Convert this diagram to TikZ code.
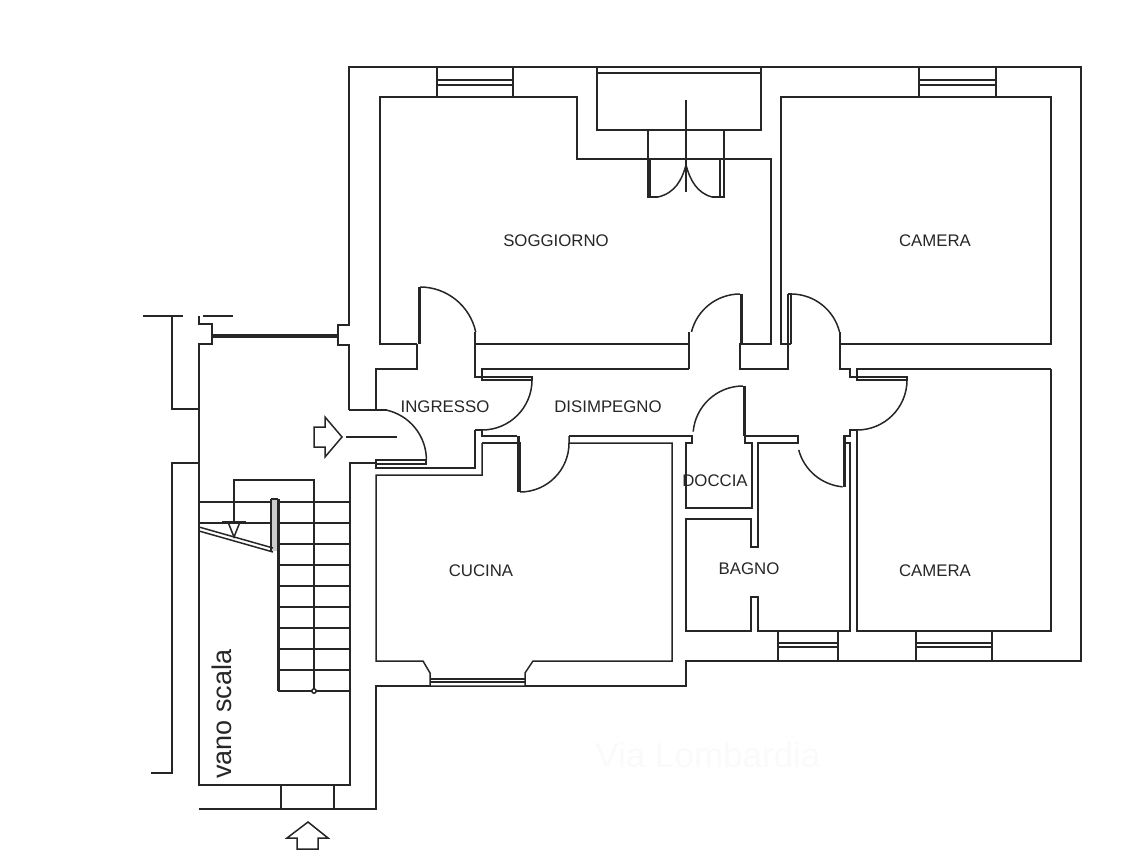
\documentclass[tikz,border=0pt]{standalone}
\usepackage{fontspec}
\setmainfont{Liberation Sans}

\tikzset{
	wall/.style={line width=1.5pt, draw=black!85, line join=miter},
	leaf/.style={line width=3pt, draw=black!85},
	roomlabel/.style={font=\fontsize{16.8}{17}\selectfont, text=black!85, inner sep=0pt},
}

\begin{document}
\begin{tikzpicture}[x=1pt, y=1pt, yscale=-1]
	\useasboundingbox (0,0) rectangle (1126,859);

	% outer walls
	\draw[wall] (349,410) -- (349,345) -- (338,345) -- (338,325) -- (349,325) -- (349,67) -- (1081,67) -- (1081,661) -- (686,661) -- (686,686) -- (525,686);
	\draw[wall] (430,686) -- (376,686) -- (376,809) -- (199,809);
	\draw[wall] (349,410) -- (387,410);
	\draw[wall] (281,785) -- (281,809);
	\draw[wall] (334,785) -- (334,809);

	% stairwell
	\draw[wall] (199,316) -- (199,324) -- (212,324) -- (212,344) -- (199,344) -- (199,785) -- (350,785) -- (350,463) -- (376,463);
	\draw[wall] (376,410) -- (376,369) -- (417,369) -- (417,344);
	\draw[wall] (203,316) -- (233,316);
	\draw[wall] (143,316) -- (183,316);
	\draw[wall] (172,316) -- (172,409) -- (199,409);
	\draw[wall] (199,463) -- (172,463) -- (172,773) -- (151,773);
	\draw[leaf, line width=4.5pt] (213,336) -- (338,336);

	% steps
	\foreach \ystep in {502,523} {
		\draw[wall] (199,\ystep) -- (271,\ystep);
		\draw[wall] (278,\ystep) -- (350,\ystep);
	}
	\foreach \ystep in {544,565,586,607,628,649,670,691} {
		\draw[wall] (278,\ystep) -- (350,\ystep);
	}
	\draw[wall] (234,522) -- (234,480) -- (314,480) -- (314,691);
	\draw[wall, fill=white] (314,691) circle (2.2);
	\fill[black!20] (271,499) rectangle (277,551);
	\draw[leaf] (278,499) -- (278,691);
	\draw[wall] (271,499) -- (278,499);
	\draw[wall] (271,499) -- (271,552);
	\draw[wall] (199,527) -- (273,548);
	\draw[wall] (199,531) -- (273,552);
	\draw[wall] (222,522) -- (246,522);
	\draw[wall] (228,522) -- (234,537) -- (240,522);

	% soggiorno
	\draw[wall] (417,344) -- (380,344) -- (380,97) -- (577,97) -- (577,159) -- (771,159) -- (771,344) -- (740,344) -- (740,369) -- (788,369) -- (788,294);
	\draw[wall] (475,344) -- (689,344);
	\draw[wall] (689,369) -- (689,332);
	\draw[leaf] (419,287) -- (419,344);
	\draw[wall] (420,287) arc (-90:-12:57);
	\draw[wall] (475,332) -- (475,377) -- (532,377) -- (532,380) -- (482,380) -- (482,369) -- (689,369);
	\draw[leaf] (741,294) -- (741,344);
	\draw[wall] (740,294) arc (-90:-166:50);

	% windows top
	\foreach \xwin/\xend in {437/513,919/996} {
		\draw[wall] (\xwin,67) -- (\xwin,97);
		\draw[wall] (\xend,67) -- (\xend,97);
		\draw[wall] (\xwin,80) -- (\xend,80);
		\draw[wall] (\xwin,85) -- (\xend,85);
	}

	% balcony
	\draw[wall] (597,67) -- (597,130) -- (761,130) -- (761,67);
	\draw[wall] (597,73) -- (761,73);
	\draw[wall] (686,100) -- (686,192);
	\draw[wall] (648,130) -- (648,197) -- (658,197);
	\draw[wall] (724,130) -- (724,197) -- (712,197);
	\draw[wall] (720,159) -- (720,197);
	\draw[leaf] (649,159) -- (649,197);
	\draw[wall] (658,197) .. controls (675,193) and (682,180) .. (686,165);
	\draw[wall] (712,197) .. controls (697,193) and (690,180) .. (686,165);

	% camera top
	\draw[wall] (791,344) -- (781,344) -- (781,97) -- (1051,97) -- (1051,344) -- (840,344);
	\draw[wall] (788,294) -- (791,294) -- (791,344);
	\draw[wall] (791,294) arc (-90:-14:50);
	\draw[wall] (840,332) -- (840,369) -- (850,369) -- (850,377) -- (907,377) -- (907,380) -- (857,380) -- (857,369) -- (1051,369);

	% camera bottom
	\draw[wall] (1051,369) -- (1051,631) -- (857,631) -- (857,430) -- (850,430) -- (850,436) -- (843,436);
	\draw[wall] (907,380) arc (0:90:50);
	\draw[leaf] (844,436) -- (844,487);
	\draw[wall] (843,443) -- (850,443) -- (850,631) -- (758,631) -- (758,597) -- (751,597) -- (751,631) -- (686,631) -- (686,519) -- (751,519) -- (751,547) -- (758,547) -- (758,443) -- (798,443) -- (798,436) -- (745,436);
	\draw[wall] (847,437) ++(95:50) arc (95:165:50);

	% windows bottom
	\foreach \xwin/\xend in {778/838,916/992} {
		\draw[wall] (\xwin,631) -- (\xwin,661);
		\draw[wall] (\xend,631) -- (\xend,661);
		\draw[wall] (\xwin,643) -- (\xend,643);
		\draw[wall] (\xwin,647) -- (\xend,647);
	}

	% doccia
	\draw[leaf] (744,386) -- (744,436);
	\draw[wall] (743,386) arc (-90:-175:50);
	\draw[wall] (569,436) -- (692,436) -- (692,443) -- (686,443) -- (686,508) -- (752,508) -- (752,443) -- (745,443) -- (745,436);

	% cucina and ingresso door
	\draw[wall] (475,430) -- (482,430);
	\draw[wall] (532,380) arc (0:90:50);
	\draw[wall] (475,430) -- (475,468) -- (376,468) -- (376,460) -- (426,460);
	\draw[wall] (376,464) -- (426,464) -- (426,460);
	\draw[wall] (386,410) arc (-78:0:51);
	\draw[wall] (482,430) -- (482,436) -- (517,436);
	\draw[wall] (482,443) -- (482,475) -- (376,475) -- (376,661) -- (423,661) -- (430,673) -- (430,686) -- (525,686) -- (525,673) -- (533,661) -- (672,661) -- (672,443) -- (569,443) -- (569,436);
	\draw[wall] (482,443) -- (520,443) -- (520,492);
	\draw[leaf] (518,436) -- (518,492);
	\draw[wall] (520,492) arc (90:0:49);
	\draw[wall] (430,679) -- (525,679);
	\draw[wall] (430,682) -- (525,682);

	% entry arrows
	\draw[wall] (314,427) -- (325,427) -- (325,417) -- (342,437) -- (325,457) -- (325,447) -- (314,447) -- cycle;
	\draw[wall] (346,437) -- (397,437);
	\draw[wall] (308,822) -- (328,838) -- (318,838) -- (318,849) -- (297,849) -- (297,838) -- (287,838) -- cycle;

	% labels
	\node[roomlabel] (soggiorno) at (556,241) {SOGGIORNO};
	\node[roomlabel] (cameratop) at (935,241) {CAMERA};
	\node[roomlabel] (camerabottom) at (935,571) {CAMERA};
	\node[roomlabel] (ingresso) at (445,407) {INGRESSO};
	\node[roomlabel] (disimpegno) at (608,407) {DISIMPEGNO};
	\node[roomlabel] (doccia) at (715,481) {DOCCIA};
	\node[roomlabel] (bagno) at (749,569) {BAGNO};
	\node[roomlabel] (cucina) at (481,571) {CUCINA};
	\node[inner sep=0pt, rotate=90, text=black!85, font=\fontsize{27}{28}\selectfont] (vano) at (222,714) {vano scala};
	\node[inner sep=0pt, text=black!2, font=\fontsize{35}{36}\selectfont] (via) at (708,755) {Via Lombardia};
\end{tikzpicture}
\end{document}
